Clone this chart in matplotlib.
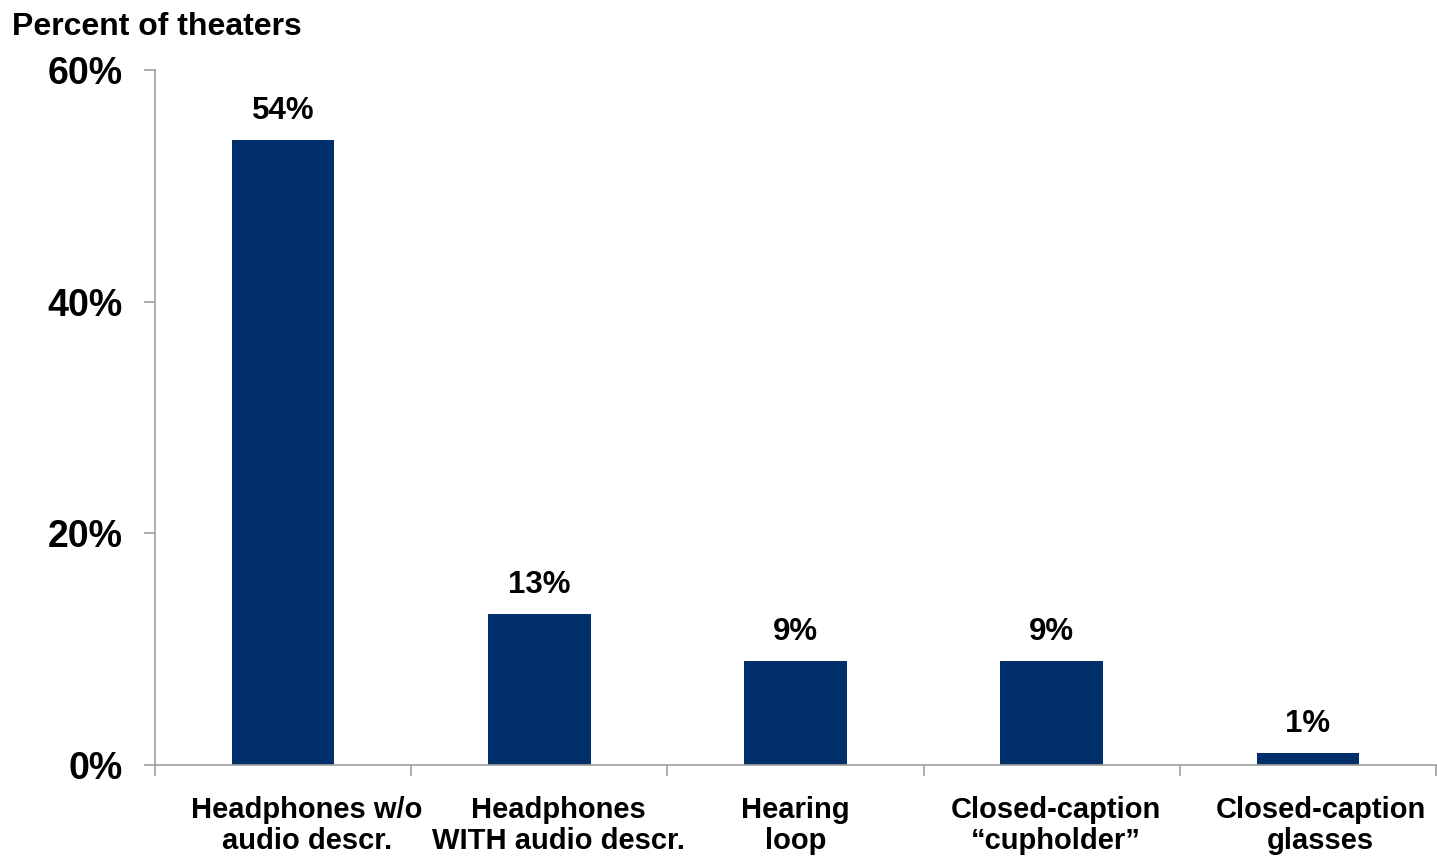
import matplotlib.pyplot as plt
import numpy as np

plt.rcParams['font.family'] = ['Liberation Sans', 'DejaVu Sans']
plt.rcParams['font.weight'] = 'bold'

categories = ["Headphones w/o\naudio descr.", "Headphones\nWITH audio descr.",
              "Hearing\nloop", "Closed-caption\n\u201ccupholder\u201d",
              "Closed-caption\nglasses"]
values = [54, 13, 9, 9, 1]
yticks = [0, 20, 40, 60]

navy = "#002F6C"
grey = "#A0A0A0"
# small horizontal nudge (points) of each category label
label_nudge = [17, 14, 0, 3, 9]

fig = plt.figure(figsize=(14.37, 8.57), dpi=100)
ax = fig.add_axes([0.1079, 0.1074, 0.8914, 0.8109])

x = np.arange(len(categories))
bars = ax.bar(x, values, width=0.4, color=navy, zorder=2)

for xi, v in zip(x, values):
    ax.annotate(f"{v}%", (xi, v), xytext=(0, 10), textcoords="offset points",
                ha="center", va="bottom", fontsize=22.5, fontweight="bold")

ax.set_xlim(-0.5, len(categories) - 0.5)
ax.set_ylim(0, 60)
ax.set_yticks(yticks)
ax.set_yticklabels([f"{t}%" for t in yticks], fontsize=27, fontweight="bold")
ax.tick_params(axis="y", length=8, width=1.2, color=grey, pad=15)

# category ticks sit on the boundaries between groups
ax.set_xticks(np.arange(len(categories) + 1) - 0.5)
ax.set_xticklabels([])
ax.tick_params(axis="x", length=8, width=1.2, color=grey)
for xi, c, dx in zip(x, categories, label_nudge):
    ax.annotate(c, (xi, 0), xytext=(dx, -22), textcoords="offset points",
                ha="center", va="top", fontsize=21, fontweight="bold",
                linespacing=1.15)

for s in ["top", "right"]:
    ax.spines[s].set_visible(False)
for s in ["left", "bottom"]:
    ax.spines[s].set_color(grey)
    ax.spines[s].set_linewidth(1.2)

fig.text(0.0084, 0.969, "Percent of theaters", ha="left", va="center",
         fontsize=23, fontweight="bold")

fig.savefig("out.png", dpi=100)
